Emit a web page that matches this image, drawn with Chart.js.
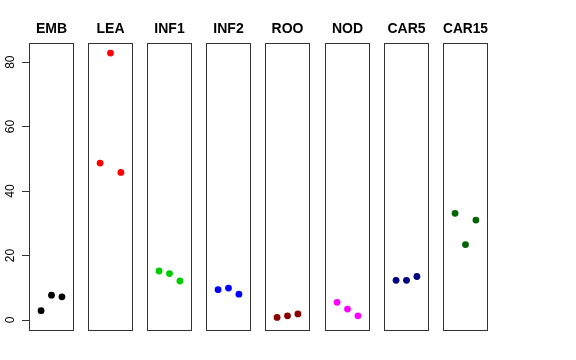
<!DOCTYPE html>
<html>
<head>
<meta charset="utf-8">
<script src="https://cdn.jsdelivr.net/npm/chart.js@4"></script>
<style>
  body { margin: 0; background: #fff; }
  #wrap { position: relative; width: 576px; height: 360px; }
  canvas { position: absolute; top: 0; }
</style>
</head>
<body>
<div id="wrap"></div>
<script>
const categories = ['EMB', 'LEA', 'INF1', 'INF2', 'ROO', 'NOD', 'CAR5', 'CAR15'];
const xValues = [1, 2, 3];
const embValues = [2.9, 7.7, 7.2];
const leaValues = [48.7, 82.8, 45.8];
const inf1Values = [15.2, 14.4, 12.1];
const inf2Values = [9.4, 9.9, 8.0];
const rooValues = [0.8, 1.3, 1.9];
const nodValues = [5.5, 3.4, 1.3];
const car5Values = [12.3, 12.3, 13.5];
const car15Values = [33.1, 23.4, 31.0];
const yTicks = [0, 20, 40, 60, 80];

const seriesValues = [embValues, leaValues, inf1Values, inf2Values, rooValues, nodValues, car5Values, car15Values];
const colors = ['#000000', '#ff0000', '#00cd00', '#0000ff', '#8b0000', '#ff00ff', '#000080', '#006400'];

const panelLefts = [29, 88, 147, 206, 265, 325, 384, 443];
const panelWidth = 45;
const axisWidth = 29;

const boxPlugin = {
  id: 'box',
  afterDatasetsDraw(chart) {
    const a = chart.chartArea;
    const ctx = chart.ctx;
    ctx.save();
    ctx.strokeStyle = '#333';
    ctx.lineWidth = 1;
    ctx.strokeRect(Math.round(a.left) + 0.5, Math.round(a.top) + 0.5,
      Math.round(a.right - a.left) - 1, Math.round(a.bottom - a.top));
    ctx.restore();
  }
};

const wrap = document.getElementById('wrap');

categories.forEach(function(name, i) {
  const withAxis = i === 0;
  const canvas = document.createElement('canvas');
  // the first canvas gets the same width on both sides so its title stays centred on the panel
  const w = withAxis ? panelWidth + 2 * axisWidth : panelWidth;
  canvas.width = w;
  canvas.height = 332;
  canvas.style.left = (withAxis ? panelLefts[0] - axisWidth : panelLefts[i]) + 'px';
  wrap.appendChild(canvas);

  const points = xValues.map((x, k) => ({ x: x, y: seriesValues[i][k] }));

  const scales = {
    x: {
      type: 'linear',
      min: -0.16,
      max: 4.16,
      display: false
    },
    y: {
      type: 'linear',
      min: -3.1,
      max: 86,
      display: withAxis,
      afterBuildTicks: function(scale) {
        scale.ticks = yTicks.map(v => ({ value: v }));
      },
      afterFit: function(scale) {
        if (!withAxis) return;
        scale.width = axisWidth;
        scale.paddingTop = 0;
        scale.paddingBottom = 0;
      },
      grid: {
        drawOnChartArea: false,
        drawTicks: true,
        tickLength: 7,
        color: '#333'
      },
      border: { display: false },
      ticks: {
        minRotation: 90,
        maxRotation: 90,
        crossAlign: 'center',
        padding: 5,
        color: '#000',
        font: { family: 'Liberation Sans, Arial, sans-serif', size: 12 }
      }
    }
  };
  if (withAxis) {
    // empty space on the right, mirrors the axis so the title is centred on the box
    scales.spacer = {
      type: 'linear',
      position: 'right',
      display: false,
      afterFit: function(scale) { scale.width = axisWidth; }
    };
  }

  new Chart(canvas.getContext('2d'), {
    type: 'scatter',
    data: {
      datasets: [{
        data: points,
        backgroundColor: colors[i],
        borderWidth: 0,
        pointRadius: 3.4,
        pointHoverRadius: 3.4
      }]
    },
    options: {
      responsive: false,
      animation: false,
      layout: { autoPadding: false, padding: { bottom: 2, left: 0, right: 0, top: 0 } },
      scales: scales,
      plugins: {
        legend: { display: false },
        tooltip: { enabled: false },
        title: {
          display: true,
          text: name,
          color: '#000',
          font: { family: 'Liberation Sans, Arial, sans-serif', size: 14, weight: 'bold' },
          padding: { top: 21, bottom: 5 }
        }
      }
    },
    plugins: [boxPlugin]
  });
});
</script>
</body>
</html>
